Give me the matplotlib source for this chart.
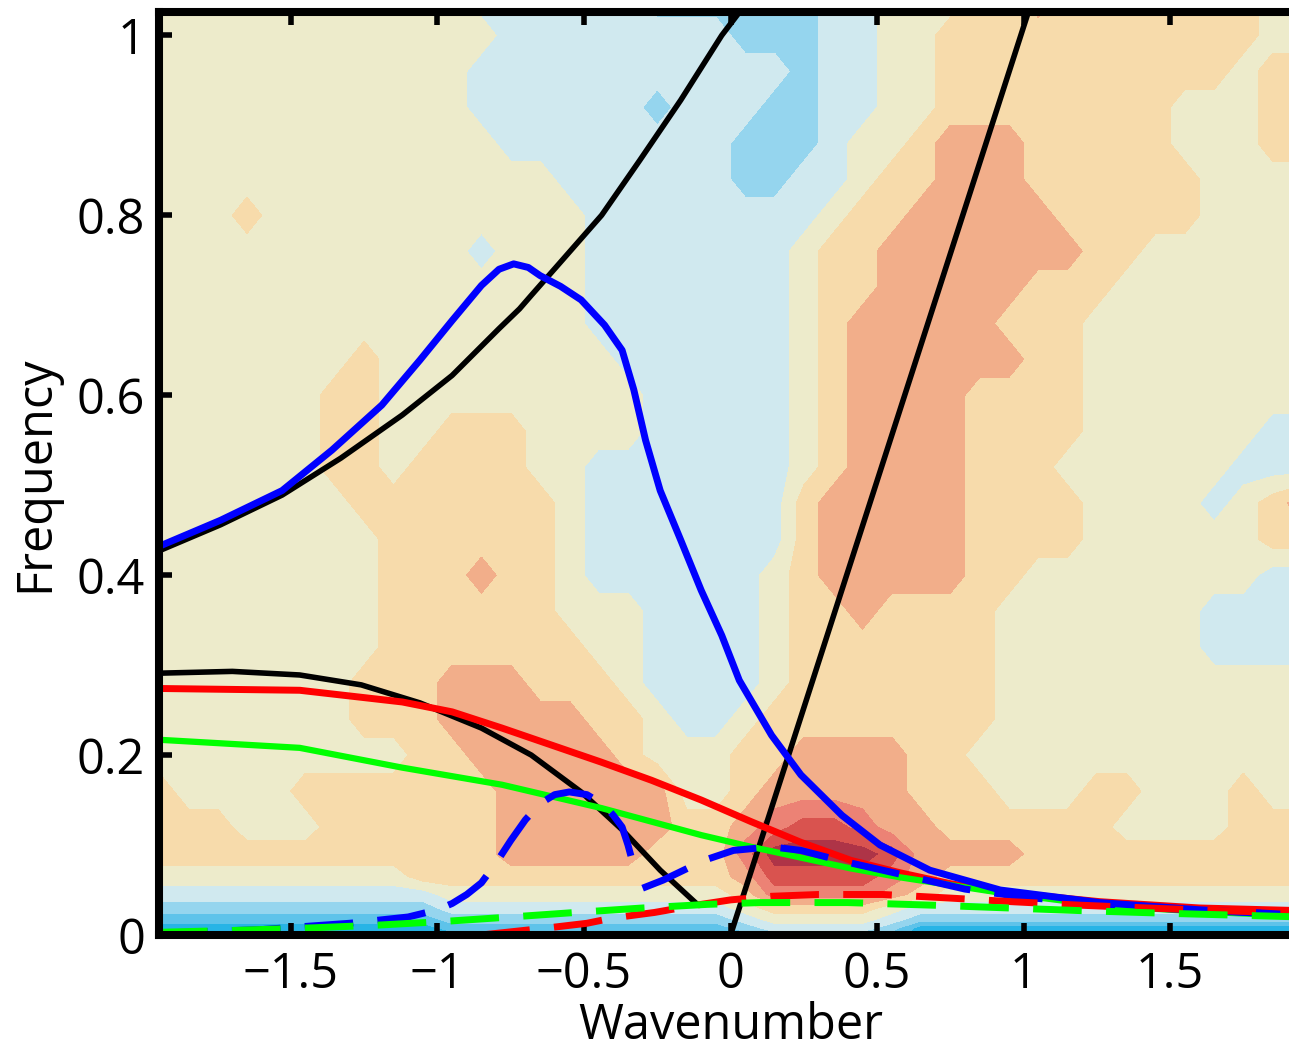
import numpy as np
import matplotlib
matplotlib.use('Agg')
import matplotlib.pyplot as plt

plt.rcParams['font.family'] = ['Open Sans', 'DejaVu Sans']

# wavenumber columns of the shaded field
field_k = [-1.95, -1.85, -1.75, -1.65, -1.55, -1.45, -1.35, -1.25, -1.15, -1.05,
           -0.95, -0.85, -0.75, -0.65, -0.55, -0.45, -0.35, -0.25, -0.15, -0.05,
           0.05, 0.15, 0.25, 0.35, 0.45, 0.55, 0.65, 0.75, 0.85, 0.95,
           1.05, 1.15, 1.25, 1.35, 1.45, 1.55, 1.65, 1.75, 1.85, 1.95]
# frequency rows, top to bottom
field_w = [1.04, 1.00, 0.96, 0.92, 0.88, 0.84, 0.80, 0.76, 0.72, 0.68, 0.64,
           0.60, 0.56, 0.52, 0.48, 0.44, 0.40, 0.36, 0.32, 0.28, 0.24, 0.20,
           0.16, 0.12, 0.09, 0.065, 0.045, 0.03, 0.018, 0.008, 0.0]
# shading class per cell: E..A = blue classes, . = neutral, 1..5 = warm classes
field_rows = [
    "...........AAAAAABBBBBBAA...1121111111..",
    "............AAAAAAAABBBAA..11111111111..",
    "...........AAAAAAAAAAABAA..1111111111.11",
    "...........AAAAAABAAABBAA..11111111...11",
    "............AAAAAAAABBBA..122211111...11",
    "..............AAAAAABBAA.11222111111....",
    "...1...........AAAAAAAA.112222211111....",
    "...........A...AAAAAAA.11222222211......",
    "...............AAAAAAA.1122222111.......",
    "...............AAAAAAA.122222111........",
    ".......1........AAAAAA.122222211........",
    "......11.........AAAAA.122221111........",
    "......11..111....AAAAA.122221111......AA",
    "......11.1111..AAAAAAA.12222111......AAA",
    ".......1111111.AAAAAAA1222221111....A.12",
    "........111111.AAAAAAA1222221111......11",
    "........111211.AAAAAA.12222211........AA",
    "........111111...AAAA.1121111.......AAAA",
    "........1111111..AAAA.1111111.......AAAA",
    ".......111222111.AAAA.1111111...........",
    ".......1112222211.AA.11111111...........",
    ".........11222221...11222211............",
    "1....1111111222222..122222111...11...1..",
    "111...111111222222112344322111111....111",
    "1111111111112222211135555422221111111111",
    ".........11111111111244443211111111111111"[:40],
    "AAAAAAAAAA..........1333321.............",
    "BBBBBBBBBBAAAAAAAAAA.1111.AAAAAAAAAAAAAA",
    "CCCCCCCCCCBBBBBBBBBBA....ABBBBBBBBBBBBBB",
    "DDDDDDDDDDCCCCCCCCCCBAAAABDDDDDDDDDDDDDD",
    "EEEEEEEEEEDDDDDDDDDDCBBBBCDDDDDDDDDDDDDD",
]
class_codes = {'E': -5, 'D': -4, 'C': -3, 'B': -2, 'A': -1, '.': 0,
               '1': 1, '2': 2, '3': 3, '4': 4, '5': 5}
class_colors = ['#1a8fd0', '#27b4e6', '#5ec3ea', '#95d5ee', '#d0e9ef', '#edebcb',
                '#f7dbab', '#f2ae8a', '#ec8275', '#d9534f', '#ae3447']

# dispersion curves
black_up_k = [-1.95, -1.74, -1.53, -1.33, -1.12, -0.95, -0.79, -0.72, -0.68, -0.58,
              -0.44, -0.31, -0.17, -0.03, 0.04]
black_up_w = [0.427, 0.456, 0.489, 0.530, 0.578, 0.622, 0.674, 0.696, 0.711, 0.748,
              0.800, 0.861, 0.928, 1.000, 1.03]
black_low_k = [-1.95, -1.70, -1.47, -1.26, -1.06, -0.85, -0.68, -0.51, -0.37, -0.24, -0.11]
black_low_w = [0.291, 0.293, 0.289, 0.278, 0.258, 0.230, 0.200, 0.159, 0.117, 0.072, 0.033]
kelvin_k = [0.0, 1.04]
kelvin_w = [0.0, 1.05]

blue_k = [-1.95, -1.74, -1.53, -1.36, -1.19, -1.06, -0.95, -0.85, -0.79, -0.74, -0.69,
          -0.65, -0.58, -0.51, -0.43, -0.37, -0.33, -0.29, -0.24, -0.17, -0.10, -0.03,
          0.03, 0.14, 0.24, 0.38, 0.51, 0.68, 0.92, 1.26, 1.60, 1.95]
blue_w = [0.432, 0.461, 0.494, 0.539, 0.589, 0.639, 0.683, 0.722, 0.740, 0.746, 0.742,
          0.733, 0.721, 0.706, 0.678, 0.650, 0.606, 0.550, 0.494, 0.439, 0.383, 0.333,
          0.283, 0.222, 0.178, 0.133, 0.100, 0.072, 0.050, 0.036, 0.028, 0.022]
red_k = [-1.95, -1.47, -1.12, -0.95, -0.78, -0.61, -0.44, -0.27, -0.10, 0.07, 0.24,
         0.41, 0.58, 0.75, 0.92, 1.26, 1.60, 1.95]
red_w = [0.274, 0.272, 0.259, 0.248, 0.230, 0.211, 0.192, 0.172, 0.150, 0.126, 0.103,
         0.083, 0.069, 0.057, 0.048, 0.037, 0.030, 0.027]
green_k = [-1.95, -1.47, -1.12, -0.78, -0.44, -0.10, 0.07, 0.24, 0.41, 0.58, 0.92,
           1.26, 1.60, 1.95]
green_w = [0.217, 0.208, 0.186, 0.167, 0.141, 0.111, 0.098, 0.086, 0.074, 0.064, 0.047,
           0.033, 0.026, 0.021]

blue_d1_k = [-1.95, -1.6, -1.3, -1.1, -1.0, -0.95, -0.90, -0.85, -0.80, -0.75, -0.70,
             -0.65, -0.60, -0.55, -0.49, -0.43, -0.40, -0.37, -0.35, -0.33]
blue_d1_w = [0.002, 0.006, 0.013, 0.020, 0.028, 0.035, 0.045, 0.058, 0.080, 0.105, 0.128,
             0.146, 0.156, 0.159, 0.156, 0.144, 0.133, 0.120, 0.100, 0.076]
blue_d2_k = [-0.30, -0.23, -0.16, -0.09, 0.01, 0.14, 0.24, 0.37, 0.6, 0.8, 1.0, 1.25, 1.5, 1.95]
blue_d2_w = [0.052, 0.061, 0.072, 0.083, 0.094, 0.098, 0.094, 0.083, 0.066, 0.051, 0.042,
             0.035, 0.029, 0.022]
red_d_k = [-0.85, -0.62, -0.49, -0.4, -0.26, -0.12, 0.0, 0.14, 0.3, 0.52, 0.75, 0.96, 1.2, 1.5, 1.95]
red_d_w = [0.0, 0.008, 0.013, 0.019, 0.025, 0.033, 0.039, 0.043, 0.045, 0.045, 0.041,
           0.037, 0.033, 0.029, 0.024]
green_d_k = [-1.95, -1.7, -1.42, -1.2, -0.98, -0.75, -0.53, -0.3, -0.08, 0.1, 0.4, 0.7,
             0.95, 1.2, 1.5, 1.95]
green_d_w = [0.003, 0.005, 0.008, 0.011, 0.015, 0.02, 0.025, 0.03, 0.034, 0.036, 0.036,
             0.033, 0.03, 0.027, 0.024, 0.02]

x_ticks = [-1.5, -1, -0.5, 0, 0.5, 1, 1.5]
x_labels = ['\u22121.5', '\u22121', '\u22120.5', '0', '0.5', '1', '1.5']
y_ticks = [0, 0.2, 0.4, 0.6, 0.8, 1]
y_labels = ['0', '0.2', '0.4', '0.6', '0.8', '1']

Z = np.array([[class_codes[c] for c in row] for row in field_rows], dtype=float)
K, W = np.meshgrid(field_k, field_w)

fig = plt.figure(figsize=(12.89, 10.51), dpi=100)
ax = fig.add_axes([0.1234, 0.1104, 0.8867, 0.8782])
ax.contourf(K, W, Z, levels=np.arange(-5.5, 6.0, 1.0), colors=class_colors)

solid = dict(solid_joinstyle='round', solid_capstyle='round')
ax.plot(black_up_k, black_up_w, color='black', lw=4, **solid)
ax.plot(black_low_k, black_low_w, color='black', lw=4, **solid)
ax.plot(kelvin_k, kelvin_w, color='black', lw=4, **solid)
ax.plot(red_k, red_w, color='#ff0000', lw=5, **solid)
ax.plot(green_k, green_w, color='#00ff00', lw=4.5, **solid)
ax.plot(blue_k, blue_w, color='#0000ff', lw=5, **solid)
dash = (0, (7, 3.5))
dashed = dict(ls=dash, dash_joinstyle='round', dash_capstyle='butt')
ax.plot(blue_d1_k, blue_d1_w, color='#0000ff', lw=5, **dashed)
ax.plot(blue_d2_k, blue_d2_w, color='#0000ff', lw=5, **dashed)
ax.plot(red_d_k, red_d_w, color='#ff0000', lw=5, **dashed)
ax.plot(green_d_k, green_d_w, color='#00ff00', lw=5, **dashed)

ax.set_xlim(-1.95, 1.95)
ax.set_ylim(0, 1.026)
ax.set_xticks(x_ticks)
ax.set_xticklabels(x_labels)
ax.set_yticks(y_ticks)
ax.set_yticklabels(y_labels)
for s in ax.spines.values():
    s.set_linewidth(5.8)
ax.tick_params(direction='in', length=9, width=4, labelsize=35, top=True, right=True)
ax.tick_params(axis='x', pad=11)
ax.tick_params(axis='y', pad=10)
ax.set_xlabel('Wavenumber', fontsize=35, labelpad=1)
ax.set_ylabel('Frequency', fontsize=35, labelpad=12)

fig.savefig('out.png', dpi=100)
